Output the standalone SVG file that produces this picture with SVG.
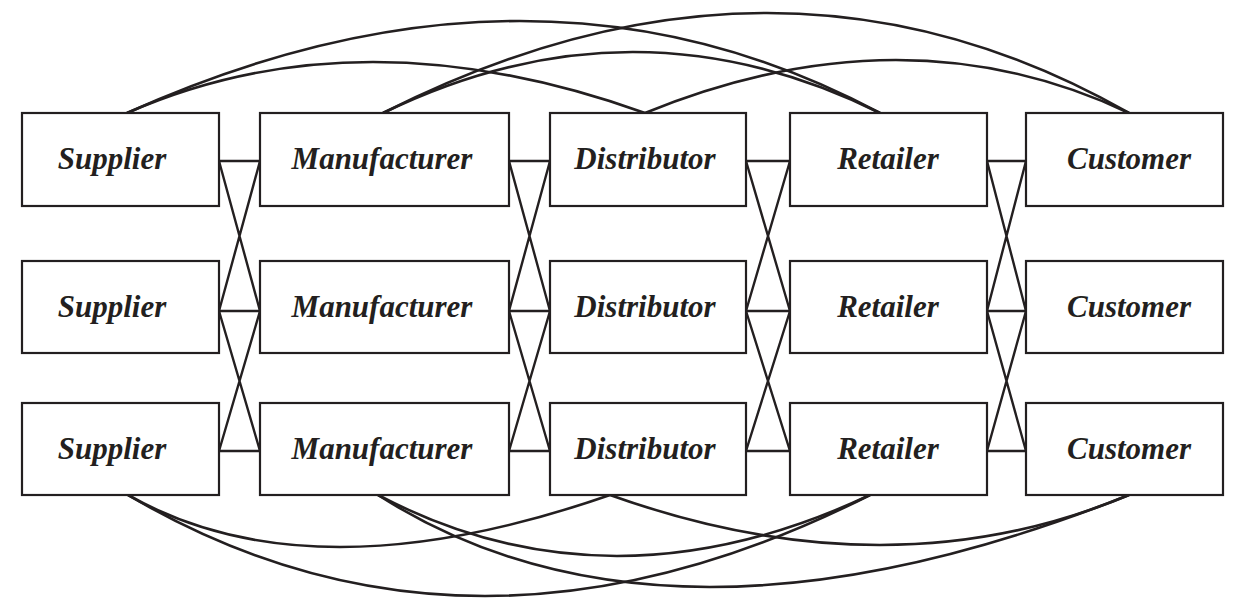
<svg xmlns="http://www.w3.org/2000/svg" width="1246" height="602" viewBox="0 0 1246 602">
<style>
.box{fill:#fff;stroke:#231f20;stroke-width:2.2}
.lbl{font-family:"Liberation Serif","Times New Roman",serif;font-weight:bold;font-style:italic;font-size:31px;fill:#231f20;text-anchor:middle}
.ln{fill:none;stroke:#231f20;stroke-width:2.4}
.arc{fill:none;stroke:#231f20;stroke-width:2.6}
</style>
<rect width="1246" height="602" fill="#fff"/>
<g id="connectors">
<g class="ln">
<path d="M219,161 H260 M219,311 H260 M219,451 H260 M219,161 L260,311 M260,161 L219,311 M219,311 L260,451 M260,311 L219,451"/>
<path d="M509,161 H550 M509,311 H550 M509,451 H550 M509,161 L550,311 M550,161 L509,311 M509,311 L550,451 M550,311 L509,451"/>
<path d="M746,161 H790 M746,311 H790 M746,451 H790 M746,161 L790,311 M790,161 L746,311 M746,311 L790,451 M790,311 L746,451"/>
<path d="M987,161 H1026 M987,311 H1026 M987,451 H1026 M987,161 L1026,311 M1026,161 L987,311 M987,311 L1026,451 M1026,311 L987,451"/>
</g>
<g class="arc">
<path d="M127,113 Q360,11 645,113"/>
<path d="M127,113 Q536,-71 880,113"/>
<path d="M383,113 Q634,-9 880,113"/>
<path d="M383,113 Q778,-87 1129,113"/>
<path d="M645,113 Q905,7 1129,113"/>
<path d="M128,495 Q311,599 610,495"/>
<path d="M128,495 Q471,697 870,495"/>
<path d="M378,495 Q610,617 870,495"/>
<path d="M378,495 Q666,679 1129,495"/>
<path d="M610,495 Q890,595 1129,495"/>
</g>
</g>
<g id="supplier1"><rect class="box" x="22" y="113" width="197" height="93"/><text class="lbl" x="112" y="169">Supplier</text></g>
<g id="manufacturer1"><rect class="box" x="260" y="113" width="249" height="93"/><text class="lbl" x="382" y="169">Manufacturer</text></g>
<g id="distributor1"><rect class="box" x="550" y="113" width="196" height="93"/><text class="lbl" x="645" y="169">Distributor</text></g>
<g id="retailer1"><rect class="box" x="790" y="113" width="197" height="93"/><text class="lbl" x="888" y="169">Retailer</text></g>
<g id="customer1"><rect class="box" x="1026" y="113" width="197" height="93"/><text class="lbl" x="1129" y="169">Customer</text></g>
<g id="supplier2"><rect class="box" x="22" y="261" width="197" height="92"/><text class="lbl" x="112" y="317">Supplier</text></g>
<g id="manufacturer2"><rect class="box" x="260" y="261" width="249" height="92"/><text class="lbl" x="382" y="317">Manufacturer</text></g>
<g id="distributor2"><rect class="box" x="550" y="261" width="196" height="92"/><text class="lbl" x="645" y="317">Distributor</text></g>
<g id="retailer2"><rect class="box" x="790" y="261" width="197" height="92"/><text class="lbl" x="888" y="317">Retailer</text></g>
<g id="customer2"><rect class="box" x="1026" y="261" width="197" height="92"/><text class="lbl" x="1129" y="317">Customer</text></g>
<g id="supplier3"><rect class="box" x="22" y="403" width="197" height="92"/><text class="lbl" x="112" y="459">Supplier</text></g>
<g id="manufacturer3"><rect class="box" x="260" y="403" width="249" height="92"/><text class="lbl" x="382" y="459">Manufacturer</text></g>
<g id="distributor3"><rect class="box" x="550" y="403" width="196" height="92"/><text class="lbl" x="645" y="459">Distributor</text></g>
<g id="retailer3"><rect class="box" x="790" y="403" width="197" height="92"/><text class="lbl" x="888" y="459">Retailer</text></g>
<g id="customer3"><rect class="box" x="1026" y="403" width="197" height="92"/><text class="lbl" x="1129" y="459">Customer</text></g>
</svg>
